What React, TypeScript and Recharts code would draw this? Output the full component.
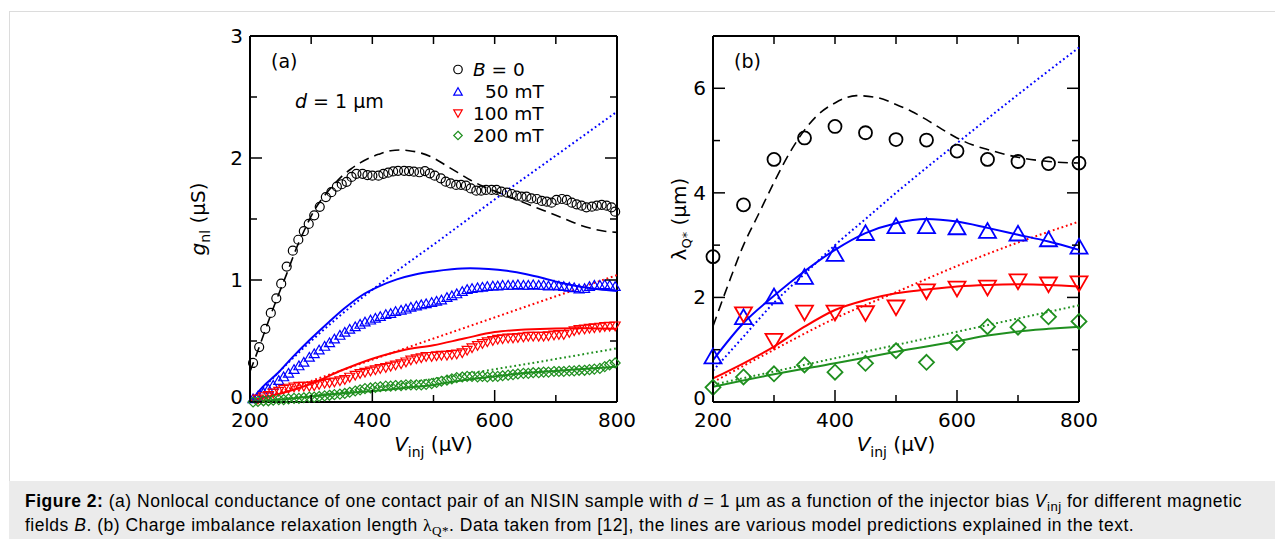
import React from 'react';
import { ComposedChart, Line, XAxis, YAxis, ReferenceLine, Customized } from 'recharts';

const FONT = '"DejaVu Sans", sans-serif';
const BLACK = '#000000';
const BLUE = '#0000ff';
const RED = '#ff0000';
const GREEN = '#1f8f1f';

// ---------- shared ticks ----------
const xTicks = [200, 300, 400, 500, 600, 700, 800];
const aYTicks = [0, 0.5, 1, 1.5, 2, 2.5, 3];
const bYTicks = [0, 1, 2, 3, 4, 5, 6, 7];

// ---------- panel (a): g_nl (µS) vs V_inj (µV) ----------
const aB0: [number, number][] = [
  [205, 0.32], [215, 0.45], [225, 0.6], [234, 0.73], [243, 0.85], [251, 0.97], [260, 1.11], [270, 1.24],
  [279, 1.33], [288, 1.4], [296, 1.46], [305, 1.53], [314, 1.6], [324, 1.68], [333, 1.72], [342, 1.765],
  [350, 1.785], [358, 1.805], [366, 1.845], [374, 1.87], [384, 1.87], [392, 1.86], [400, 1.855], [410, 1.855],
  [418, 1.87], [426, 1.88], [434, 1.89], [442, 1.895], [452, 1.895], [460, 1.893], [468, 1.888], [477, 1.883],
  [486, 1.893], [494, 1.874], [502, 1.855], [512, 1.833], [520, 1.806], [528, 1.792], [537, 1.779], [545, 1.779],
  [553, 1.773], [561, 1.751], [570, 1.732], [578, 1.732], [586, 1.738], [595, 1.738], [603, 1.738], [611, 1.724],
  [620, 1.716], [628, 1.705], [636, 1.691], [644, 1.683], [652, 1.683], [660, 1.669], [669, 1.664], [677, 1.648],
  [685, 1.642], [693, 1.634], [701, 1.656], [710, 1.664], [718, 1.656], [726, 1.634], [734, 1.62], [742, 1.609],
  [750, 1.596], [759, 1.601], [767, 1.609], [775, 1.615], [783, 1.609], [791, 1.596], [797, 1.56],
];
const a50: [number, number][] = [
  [205, 0.03], [213, 0.05], [222, 0.08], [230, 0.11], [238, 0.14], [247, 0.18], [255, 0.21], [263, 0.24],
  [272, 0.27], [280, 0.3], [288, 0.33], [297, 0.37], [305, 0.4], [313, 0.43], [322, 0.46], [330, 0.49],
  [338, 0.52], [347, 0.55], [355, 0.575], [363, 0.6], [372, 0.62], [380, 0.64], [388, 0.66], [397, 0.675],
  [405, 0.69], [413, 0.705], [422, 0.72], [430, 0.73], [438, 0.745], [447, 0.755], [455, 0.765], [463, 0.78],
  [472, 0.79], [480, 0.8], [488, 0.81], [497, 0.82], [505, 0.83], [513, 0.84], [522, 0.86], [530, 0.875],
  [538, 0.89], [547, 0.91], [555, 0.925], [563, 0.935], [572, 0.94], [580, 0.945], [588, 0.95], [597, 0.955],
  [605, 0.955], [613, 0.96], [622, 0.96], [630, 0.96], [638, 0.965], [647, 0.96], [655, 0.96], [663, 0.965],
  [672, 0.96], [680, 0.96], [688, 0.955], [697, 0.96], [705, 0.955], [713, 0.95], [722, 0.945], [730, 0.94],
  [738, 0.93], [747, 0.935], [755, 0.95], [763, 0.96], [772, 0.96], [780, 0.965], [788, 0.96], [797, 0.95],
];
const a100: [number, number][] = [
  [213, 0.02], [222, 0.04], [230, 0.05], [238, 0.07], [247, 0.085], [255, 0.1], [263, 0.11], [272, 0.12],
  [280, 0.125], [288, 0.125], [297, 0.125], [305, 0.13], [313, 0.14], [322, 0.15], [330, 0.155], [338, 0.16],
  [347, 0.17], [355, 0.18], [363, 0.2], [372, 0.215], [380, 0.23], [388, 0.24], [397, 0.25], [405, 0.26],
  [413, 0.27], [422, 0.28], [430, 0.29], [438, 0.3], [447, 0.31], [455, 0.325], [463, 0.34], [472, 0.35],
  [480, 0.36], [488, 0.37], [497, 0.37], [505, 0.375], [513, 0.38], [522, 0.38], [530, 0.385], [538, 0.39],
  [547, 0.4], [555, 0.42], [563, 0.44], [572, 0.46], [580, 0.475], [588, 0.49], [597, 0.5], [605, 0.51],
  [613, 0.515], [622, 0.52], [630, 0.52], [638, 0.525], [647, 0.53], [655, 0.535], [663, 0.535], [672, 0.535],
  [680, 0.535], [688, 0.54], [697, 0.545], [705, 0.55], [713, 0.55], [722, 0.565], [730, 0.58], [738, 0.59],
  [747, 0.595], [755, 0.6], [763, 0.605], [772, 0.61], [780, 0.615], [788, 0.617], [797, 0.62],
];
const a200: [number, number][] = [
  [205, 0.0], [213, 0.005], [222, 0.01], [230, 0.01], [238, 0.015], [247, 0.02], [255, 0.02], [263, 0.025],
  [272, 0.03], [280, 0.03], [288, 0.035], [297, 0.04], [305, 0.04], [313, 0.045], [322, 0.05], [330, 0.055],
  [338, 0.06], [347, 0.065], [355, 0.07], [363, 0.08], [372, 0.09], [380, 0.1], [388, 0.11], [397, 0.115],
  [405, 0.12], [413, 0.125], [422, 0.13], [430, 0.13], [438, 0.135], [447, 0.135], [455, 0.14], [463, 0.14],
  [472, 0.14], [480, 0.14], [488, 0.145], [497, 0.15], [505, 0.16], [513, 0.17], [522, 0.18], [530, 0.19],
  [538, 0.2], [547, 0.205], [555, 0.21], [563, 0.21], [572, 0.205], [580, 0.21], [588, 0.205], [597, 0.21],
  [605, 0.21], [613, 0.215], [622, 0.22], [630, 0.225], [638, 0.23], [647, 0.235], [655, 0.235], [663, 0.24],
  [672, 0.24], [680, 0.245], [688, 0.245], [697, 0.25], [705, 0.25], [713, 0.25], [722, 0.255], [730, 0.255],
  [738, 0.26], [747, 0.26], [755, 0.265], [763, 0.27], [772, 0.275], [780, 0.29], [788, 0.305], [797, 0.32],
];
const aB0Model: [number, number][] = [
  [200, 0.25], [215, 0.45], [230, 0.66], [245, 0.86], [260, 1.05], [275, 1.25], [290, 1.42], [305, 1.57],
  [320, 1.68], [335, 1.77], [350, 1.85], [365, 1.91], [380, 1.96], [395, 2.0], [410, 2.03], [430, 2.06],
  [445, 2.065], [460, 2.06], [480, 2.04], [500, 2.0], [520, 1.94], [540, 1.88], [560, 1.82], [580, 1.77],
  [600, 1.73], [620, 1.69], [640, 1.65], [660, 1.61], [680, 1.57], [700, 1.53], [720, 1.49], [740, 1.45],
  [760, 1.42], [780, 1.4], [800, 1.39],
];
const a50Fit: [number, number][] = [
  [200, 0], [220, 0.12], [245, 0.235], [270, 0.37], [300, 0.52], [330, 0.66], [355, 0.77], [380, 0.865],
  [410, 0.945], [440, 1.005], [470, 1.045], [500, 1.07], [530, 1.088], [560, 1.096], [590, 1.09], [620, 1.075],
  [650, 1.05], [680, 1.015], [710, 0.975], [740, 0.945], [770, 0.925], [800, 0.91],
];
const a100Fit: [number, number][] = [
  [200, 0.01], [250, 0.07], [300, 0.15], [350, 0.26], [400, 0.355], [450, 0.425], [500, 0.465], [550, 0.52],
  [600, 0.573], [650, 0.594], [700, 0.603], [750, 0.605], [800, 0.6],
];
const a200Fit: [number, number][] = [
  [200, 0], [250, 0.02], [300, 0.045], [350, 0.07], [400, 0.09], [450, 0.115], [500, 0.14], [550, 0.18],
  [600, 0.21], [650, 0.237], [700, 0.255], [750, 0.272], [800, 0.29],
];
const a50Lin: [number, number][] = [
  [200, 0], [250, 0.26], [300, 0.5], [350, 0.72], [400, 0.92], [450, 1.11], [500, 1.29], [550, 1.475],
  [600, 1.66], [700, 2.02], [800, 2.38],
];
const a100Lin: [number, number][] = [[200, 0], [500, 0.52], [800, 1.04]];
const a200Lin: [number, number][] = [[200, 0], [350, 0.08], [500, 0.19], [650, 0.31], [800, 0.44]];

// ---------- panel (b): λQ* (µm) vs V_inj (µV) ----------
const bB0: [number, number][] = [
  [200, 2.78], [250, 3.77], [300, 4.64], [350, 5.05], [400, 5.27], [450, 5.15], [500, 5.02], [550, 5.01],
  [600, 4.8], [650, 4.64], [700, 4.6], [750, 4.56], [800, 4.57],
];
const b50: [number, number][] = [
  [200, 0.88], [250, 1.63], [300, 2.03], [350, 2.4], [400, 2.84], [450, 3.24], [500, 3.37], [550, 3.37],
  [600, 3.35], [650, 3.28], [700, 3.23], [750, 3.12], [800, 2.98],
];
const b100: [number, number][] = [
  [250, 1.67], [300, 1.16], [350, 1.7], [400, 1.7], [450, 1.69], [500, 1.8], [550, 2.11], [600, 2.16],
  [650, 2.18], [700, 2.3], [750, 2.24], [800, 2.26],
];
const b200: [number, number][] = [
  [200, 0.28], [250, 0.48], [300, 0.54], [350, 0.71], [400, 0.57], [450, 0.74], [500, 0.98], [550, 0.76],
  [600, 1.14], [650, 1.44], [700, 1.43], [750, 1.63], [800, 1.54],
];
const bB0Model: [number, number][] = [
  [200, 1.45], [225, 2.25], [250, 3.0], [275, 3.6], [300, 4.2], [330, 4.85], [350, 5.2], [370, 5.47],
  [400, 5.72], [435, 5.86], [470, 5.82], [500, 5.69], [525, 5.56], [550, 5.4], [575, 5.22], [600, 5.05],
  [625, 4.92], [650, 4.83], [700, 4.68], [750, 4.6], [800, 4.57],
];
const b50Fit: [number, number][] = [
  [200, 0.8], [250, 1.51], [300, 2.03], [350, 2.5], [400, 2.91], [450, 3.23], [500, 3.42], [550, 3.5],
  [600, 3.45], [650, 3.33], [700, 3.2], [750, 3.07], [800, 2.91],
];
const b100Fit: [number, number][] = [
  [200, 0.45], [250, 0.74], [300, 1.06], [350, 1.44], [400, 1.76], [450, 1.95], [500, 2.08], [550, 2.15],
  [600, 2.21], [650, 2.24], [700, 2.25], [750, 2.24], [800, 2.21],
];
const b200Fit: [number, number][] = [
  [200, 0.29], [300, 0.53], [400, 0.74], [500, 0.96], [600, 1.16], [650, 1.27], [700, 1.35], [750, 1.4], [800, 1.44],
];
const b50Lin: [number, number][] = [
  [200, 0.6], [250, 1.25], [300, 1.9], [350, 2.45], [400, 3.0], [450, 3.5], [500, 4.0], [600, 4.95], [700, 5.88], [800, 6.78],
];
const b100Lin: [number, number][] = [[200, 0.38], [300, 1.0], [400, 1.6], [500, 2.1], [600, 2.6], [700, 3.05], [800, 3.45]];
const b200Lin: [number, number][] = [[200, 0.33], [800, 1.85]];

// legend entries of panel (a)
const legendItems = [
  { kind: 'circle', color: BLACK, label: 'B = 0' },
  { kind: 'up', color: BLUE, label: '50 mT' },
  { kind: 'down', color: RED, label: '100 mT' },
  { kind: 'diamond', color: GREEN, label: '200 mT' },
];

const toPts = (arr: [number, number][]) => arr.map(([x, y]) => ({ x, y }));

type Kind = 'circle' | 'up' | 'down' | 'diamond';

function Marker({ kind, cx, cy, s, color, sw }: { kind: Kind; cx: number; cy: number; s: number; color: string; sw: number }) {
  if (cx == null || cy == null || isNaN(cx) || isNaN(cy)) return null;
  const common = { fill: 'none', stroke: color, strokeWidth: sw };
  if (kind === 'circle') return <circle cx={cx} cy={cy} r={s / 2} {...common} />;
  if (kind === 'up') {
    const h = s * 0.87;
    return <path d={`M${cx - s / 2},${cy + h / 2}L${cx + s / 2},${cy + h / 2}L${cx},${cy - h / 2}Z`} {...common} />;
  }
  if (kind === 'down') {
    const h = s * 0.87;
    return <path d={`M${cx - s / 2},${cy - h / 2}L${cx + s / 2},${cy - h / 2}L${cx},${cy + h / 2}Z`} {...common} />;
  }
  return <path d={`M${cx},${cy - s / 2}L${cx + s / 2},${cy}L${cx},${cy + s / 2}L${cx - s / 2},${cy}Z`} {...common} />;
}

function markerSeries(key: string, arr: [number, number][], kind: Kind, color: string, s: number, sw: number) {
  return (
    <Line
      key={key}
      data={toPts(arr)}
      dataKey="y"
      stroke="none"
      isAnimationActive={false}
      activeDot={false}
      legendType="none"
      dot={(p: any) => <Marker key={`${key}-${p.index}`} kind={kind} cx={p.cx} cy={p.cy} s={s} color={color} sw={sw} />}
    />
  );
}

function lineSeries(key: string, arr: [number, number][], color: string, dash?: string, width = 2) {
  return (
    <Line
      key={key}
      data={toPts(arr)}
      dataKey="y"
      type="monotone"
      stroke={color}
      strokeWidth={width}
      strokeDasharray={dash}
      dot={false}
      activeDot={false}
      isAnimationActive={false}
      legendType="none"
    />
  );
}

const makeXTick = (plotH: number) => (props: any) => {
  const { x, y, payload } = props;
  const v = payload.value as number;
  const major = v % 200 === 0;
  return (
    <g>
      <line x1={x} x2={x} y1={y} y2={y - (major ? 12 : 7)} stroke="#000" strokeWidth={1.5} />
      <line x1={x} x2={x} y1={y - plotH} y2={y - plotH + 8} stroke="#000" strokeWidth={1.5} />
      {major && (
        <text x={x} y={y + 25} textAnchor="middle" fontSize={20} fontFamily={FONT} fill="#000">
          {v}
        </text>
      )}
    </g>
  );
};

const makeYTick = (plotW: number, isMajor: (v: number) => boolean, zeroLift: number) => (props: any) => {
  const { x, y, payload } = props;
  const v = payload.value as number;
  const major = isMajor(v);
  const len = major ? 12 : 7;
  return (
    <g>
      <line x1={x} x2={x + len} y1={y} y2={y} stroke="#000" strokeWidth={1.5} />
      <line x1={x + plotW} x2={x + plotW - len} y1={y} y2={y} stroke="#000" strokeWidth={1.5} />
      {major && (
        <text x={x - 7} y={y + 7 - (v === 0 ? zeroLift : 0)} textAnchor="end" fontSize={20} fontFamily={FONT} fill="#000">
          {v}
        </text>
      )}
    </g>
  );
};

const txt = { fontFamily: FONT, fill: '#000' } as const;

function XLabel({ cx }: { cx: number }) {
  return (
    <text x={cx} y={451} textAnchor="middle" fontSize={20} {...txt}>
      <tspan fontStyle="italic">V</tspan>
      <tspan fontSize={14} dy={6}>inj</tspan>
      <tspan dy={-6}> (µV)</tspan>
    </text>
  );
}

// local x offset: plot left edge sits at x = 80 inside each chart
function AnnotA() {
  return (
    <g>
      <text transform="rotate(-90)" x={-219} y={35} textAnchor="middle" fontSize={20} {...txt}>
        <tspan fontStyle="italic">g</tspan>
        <tspan fontSize={14} dy={5}>nl</tspan>
        <tspan dy={-5}> (µS)</tspan>
      </text>
      <XLabel cx={263.5} />
      <text x={101} y={68} fontSize={19} {...txt}>(a)</text>
      <text x={125} y={108} fontSize={19} {...txt}>
        <tspan fontStyle="italic">d</tspan>
        <tspan> = 1 µm</tspan>
      </text>
      {legendItems.map((it, i) => {
        const base = 76 + i * 22;
        const isB = i === 0;
        return (
          <g key={it.label}>
            <Marker kind={it.kind as Kind} cx={288} cy={base - 6.5} s={8.5} color={it.color} sw={1.2} />
            <text x={it.label === '50 mT' ? 315 : 303} y={base} fontSize={18.5} {...txt}>
              {isB ? (
                <>
                  <tspan fontStyle="italic">B</tspan>
                  <tspan> = 0</tspan>
                </>
              ) : (
                it.label
              )}
            </text>
          </g>
        );
      })}
    </g>
  );
}

function AnnotB() {
  return (
    <g>
      <text transform="rotate(-90)" x={-219} y={53} textAnchor="middle" fontSize={20} {...txt}>
        <tspan>λ</tspan>
        <tspan fontSize={13} dy={5}>Q*</tspan>
        <tspan dy={-5}> (µm)</tspan>
      </text>
      <XLabel cx={263} />
      <text x={101} y={68} fontSize={19} {...txt}>(b)</text>
    </g>
  );
}

const AX = { stroke: '#000', strokeWidth: 2 };

function PanelA() {
  const plotW = 367;
  const plotH = 366;
  return (
    <ComposedChart width={477} height={480} margin={{ top: 36, right: 30, bottom: 0, left: 0 }}>
      <XAxis
        dataKey="x"
        type="number"
        domain={[200, 800]}
        ticks={xTicks}
        interval={0}
        height={78}
        tickSize={0}
        tickMargin={0}
        tickLine={false}
        axisLine={AX}
        tick={makeXTick(plotH)}
      />
      <YAxis
        type="number"
        domain={[0, 3]}
        ticks={aYTicks}
        interval={0}
        width={80}
        tickSize={0}
        tickMargin={0}
        tickLine={false}
        axisLine={AX}
        tick={makeYTick(plotW, (v) => Number.isInteger(v), 5)}
      />
      <ReferenceLine y={3} stroke="#000" strokeWidth={2} />
      <ReferenceLine x={800} stroke="#000" strokeWidth={2} />
      {markerSeries('aB0', aB0, 'circle', BLACK, 9, 1.2)}
      {markerSeries('a50', a50, 'up', BLUE, 10, 1.2)}
      {markerSeries('a100', a100, 'down', RED, 10, 1.2)}
      {markerSeries('a200', a200, 'diamond', GREEN, 10, 1.2)}
      {lineSeries('a50Lin', a50Lin, BLUE, '1.8 2.8', 2)}
      {lineSeries('a100Lin', a100Lin, RED, '1.8 2.8', 2)}
      {lineSeries('a200Lin', a200Lin, GREEN, '1.8 2.8', 2)}
      {lineSeries('a50Fit', a50Fit, BLUE)}
      {lineSeries('a100Fit', a100Fit, RED)}
      {lineSeries('a200Fit', a200Fit, GREEN)}
      {lineSeries('aB0Model', aB0Model, BLACK, '10 6', 1.6)}
      <Customized component={AnnotA} />
    </ComposedChart>
  );
}

function PanelB() {
  const plotW = 366;
  const plotH = 366;
  return (
    <ComposedChart width={476} height={480} margin={{ top: 36, right: 30, bottom: 0, left: 0 }}>
      <XAxis
        dataKey="x"
        type="number"
        domain={[200, 800]}
        ticks={xTicks}
        interval={0}
        height={78}
        tickSize={0}
        tickMargin={0}
        tickLine={false}
        axisLine={AX}
        tick={makeXTick(plotH)}
      />
      <YAxis
        type="number"
        domain={[0, 7]}
        ticks={bYTicks}
        interval={0}
        width={80}
        tickSize={0}
        tickMargin={0}
        tickLine={false}
        axisLine={AX}
        tick={makeYTick(plotW, (v) => v % 2 === 0, 4)}
      />
      <ReferenceLine y={7} stroke="#000" strokeWidth={2} />
      <ReferenceLine x={800} stroke="#000" strokeWidth={2} />
      {markerSeries('bB0', bB0, 'circle', BLACK, 13, 1.8)}
      {markerSeries('b50', b50, 'up', BLUE, 17, 1.8)}
      {markerSeries('b100', b100, 'down', RED, 17, 1.8)}
      {markerSeries('b200', b200, 'diamond', GREEN, 15, 1.8)}
      {lineSeries('b50Lin', b50Lin, BLUE, '1.8 2.8', 2)}
      {lineSeries('b100Lin', b100Lin, RED, '1.8 2.8', 2)}
      {lineSeries('b200Lin', b200Lin, GREEN, '1.8 2.8', 2)}
      {lineSeries('b50Fit', b50Fit, BLUE)}
      {lineSeries('b100Fit', b100Fit, RED)}
      {lineSeries('b200Fit', b200Fit, GREEN)}
      {lineSeries('bB0Model', bB0Model, BLACK, '10 6', 1.6)}
      <Customized component={AnnotB} />
    </ComposedChart>
  );
}

const subStyle: React.CSSProperties = { fontSize: '0.75em', position: 'relative', top: 4 };

export default function App() {
  return (
    <div style={{ position: 'absolute', left: 0, top: 0, width: 1275, height: 539, background: '#fff', overflow: 'hidden' }}>
      <div style={{ position: 'absolute', left: 9, top: 11, width: 1300, height: 600, border: '1px solid #dcdcdc', boxSizing: 'border-box' }} />
      <div style={{ position: 'absolute', left: 9, top: 481, width: 1300, height: 70, background: '#ebebeb' }} />
      <div style={{ position: 'absolute', left: 170, top: 0 }}>
        <PanelA />
      </div>
      <div style={{ position: 'absolute', left: 633, top: 0 }}>
        <PanelB />
      </div>
      <div
        style={{
          position: 'absolute',
          left: 25,
          top: 490,
          fontFamily: '"Liberation Sans", Arial, sans-serif',
          fontSize: 17.5,
          letterSpacing: '0.5px',
          lineHeight: '23px',
          whiteSpace: 'nowrap',
          color: '#000',
        }}
      >
        <div>
          <b>Figure 2:</b> (a) Nonlocal conductance of one contact pair of an NISIN sample with <i>d</i> = 1 µm as a function of the injector bias <i>V</i>
          <span style={subStyle}>inj</span> for different magnetic
        </div>
        <div>
          fields <i>B</i>. (b) Charge imbalance relaxation length{' '}
          <span style={{ fontFamily: '"Liberation Serif", serif' }}>
            λ<span style={subStyle}>Q*</span>
          </span>
          . Data taken from [12], the lines are various model predictions explained in the text.
        </div>
      </div>
    </div>
  );
}
